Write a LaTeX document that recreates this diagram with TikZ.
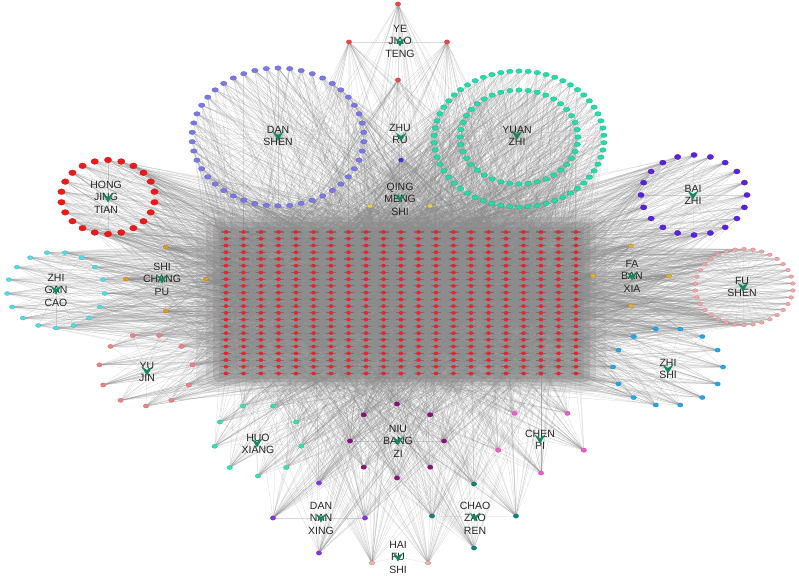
\documentclass[tikz,border=0pt]{standalone}
\usepackage{fontspec}
\setmainfont{Liberation Sans}
\usetikzlibrary{shapes.geometric}
\pgfdeclarelayer{back}
\pgfdeclarelayer{edges}
\pgfdeclarelayer{bars}
\pgfsetlayers{back,edges,bars,main}
\definecolor{tred}{HTML}{E8242C}
\definecolor{vgreen}{HTML}{138A5E}
\definecolor{cyjt}{HTML}{E84848}
\definecolor{czr}{HTML}{3A3AD8}
\definecolor{cqms}{HTML}{E8D050}
\definecolor{cds}{HTML}{7878E8}
\definecolor{cyz}{HTML}{22DDAA}
\definecolor{chjt}{HTML}{F01818}
\definecolor{cbz}{HTML}{5A22E0}
\definecolor{cfs}{HTML}{F2A6A6}
\definecolor{cfbx}{HTML}{E0B038}
\definecolor{cscp}{HTML}{E8981C}
\definecolor{czgc}{HTML}{50DDE6}
\definecolor{cyj}{HTML}{F08282}
\definecolor{czs}{HTML}{22A8E6}
\definecolor{chx}{HTML}{30E4AE}
\definecolor{cnbz}{HTML}{8A1080}
\definecolor{ccp}{HTML}{F05CC8}
\definecolor{cdnx}{HTML}{8A30E8}
\definecolor{cczr}{HTML}{108080}
\definecolor{chfs}{HTML}{F0B0A8}
\definecolor{gridbg}{HTML}{9A9A9A}
\tikzset{
  cpd/.style={ellipse, inner sep=0pt, minimum width=6.5pt, minimum height=4.6pt, fill=#1, draw=#1!75!black, line width=0.2pt},
  tgt/.style={ellipse, inner sep=0pt, minimum width=4.6pt, minimum height=3.8pt, fill=tred},
  tbar/.style={draw=black!65, line width=1.1pt, opacity=0.55},
  edge/.style={draw=black!45, line width=0.25pt, opacity=0.38},
  hedge/.style={draw=black!40, line width=0.25pt, opacity=0.38},
  herb/.style={circle, inner sep=0pt, minimum size=2pt},
  herblabel/.style={align=center, font=\fontsize{10.5}{12.5}\selectfont, text=black!85, inner sep=0pt}
}
\newcommand\ringcluster[8]{%
  \foreach \k in {1,...,#6}{%
    \pgfmathsetmacro\ang{#7+(\k-1)*(360/#6)}%
    \node[#8] (#1-\k) at ({#2+#4*cos(\ang)},{#3+#5*sin(\ang)}) {};
  }}
\newcommand\linkcluster[4]{%
  \foreach \k in {1,...,#2}{%
    \draw[hedge] (#4) -- (#1-\k);
    \foreach \e in {1,...,#3}{%
      \pgfmathrandominteger{\rr}{1}{22}%
      \pgfmathrandominteger{\cc}{1}{21}%
      \draw[edge] (#1-\k) -- (t-\rr-\cc);
    }}}
\newcommand\herbV[1]{\fill[vgreen] (#1) ++(-5.5,-4.5) -- ++(5.5,3.5) -- ++(5.5,-3.5) -- ++(-5.5,9) -- cycle;}
\begin{document}
\begin{tikzpicture}[x=1pt,y=-1pt]
\pgfmathsetseed{4242}
\useasboundingbox (0,0) rectangle (799,575);
\begin{pgfonlayer}{back}
  \fill[white] (0,0) rectangle (799,575);
  \fill[black, opacity=0.07, rounded corners=14pt] (196,210) rectangle (606,392);
  \fill[black, opacity=0.10, rounded corners=10pt] (206,217) rectangle (596,386);
  \fill[black, opacity=0.14, rounded corners=6pt] (213,222) rectangle (590,382);
  \fill[gridbg, opacity=0.6] (219,227) rectangle (584,379);
\end{pgfonlayer}
% target grid
\foreach \r in {1,...,22}{\foreach \c in {1,...,21}{%
  \node[tgt] (t-\r-\c) at ({226+17.5*(\c-1)},{232+6.74*(\r-1)}) {};
}}
\begin{pgfonlayer}{bars}
\foreach \r in {1,...,22}{\foreach \c in {1,...,21}{%
  \draw[tbar] (t-\r-\c.center) ++(-5,0) -- ++(10,0);
}}
\end{pgfonlayer}
% herb nodes
\node[herb] (h-yjt) at (400,42) {};
\node[herb] (h-zr) at (401,137) {};
\node[herb] (h-qms) at (400,198) {};
\node[herb] (h-ds) at (278,136) {};
\node[herb] (h-yz) at (517,135) {};
\node[herb] (h-hjt) at (108,198) {};
\node[herb] (h-bz) at (693,195) {};
\node[herb] (h-fbx) at (632,276) {};
\node[herb] (h-fs) at (743,287) {};
\node[herb] (h-zs) at (668,369) {};
\node[herb] (h-scp) at (162,279) {};
\node[herb] (h-zgc) at (56,290) {};
\node[herb] (h-yj) at (147,371) {};
\node[herb] (h-hx) at (257,443) {};
\node[herb] (h-nbz) at (398,441) {};
\node[herb] (h-cp) at (540,439) {};
\node[herb] (h-dnx) at (321,518) {};
\node[herb] (h-czr) at (475,517) {};
\node[herb] (h-hfs) at (398,557) {};
% compound rings
\ringcluster{c-ds}{278}{137}{86}{69}{46}{-90}{cpd=cds}
\ringcluster{c-yzo}{519}{139}{85}{68}{58}{-90}{cpd=cyz}
\ringcluster{c-yzi}{519}{137}{59}{47}{40}{-90}{cpd=cyz}
\ringcluster{c-hjt}{108}{197}{47}{37}{22}{-90}{cpd=chjt,minimum width=7.5pt,minimum height=5.8pt}
\ringcluster{c-bz}{694}{195}{53}{40}{20}{-90}{cpd=cbz,minimum width=6.5pt,minimum height=5.2pt}
\ringcluster{c-fs}{744}{287}{49}{38}{34}{-90}{cpd=cfs,minimum width=5pt,minimum height=3.6pt}
\ringcluster{c-zgc}{56}{290}{49}{38}{17}{90}{cpd=czgc,minimum width=5.5pt,minimum height=4pt}
\ringcluster{c-yj}{146}{370}{47}{36}{11}{90}{cpd=cyj,minimum width=5.5pt,minimum height=4.2pt}
\ringcluster{c-zs}{668}{367}{55}{39}{14}{102.86}{cpd=czs,minimum width=5.5pt,minimum height=4.2pt}
\ringcluster{c-hx}{258}{440}{44}{36}{9}{90}{cpd=chx,minimum width=5.5pt,minimum height=4.2pt}
\ringcluster{c-nbz}{397}{441}{47}{37}{8}{90}{cpd=cnbz,minimum width=5.5pt,minimum height=4.4pt}
\ringcluster{c-cp}{541}{440}{45}{33}{5}{90}{cpd=ccp,minimum width=5.5pt,minimum height=4.4pt}
\ringcluster{c-dnx}{319}{518}{46}{35}{4}{90}{cpd=cdnx,minimum width=5.5pt,minimum height=4.4pt}
\ringcluster{c-czr}{474}{516}{42}{32}{4}{90}{cpd=cczr,minimum width=5.5pt,minimum height=4.4pt}
\ringcluster{c-yjt}{398}{42}{49}{38}{4}{90}{cpd=cyjt,minimum width=5.5pt,minimum height=4.4pt}
\ringcluster{c-fbx}{631}{276}{38}{30}{4}{90}{cpd=cfbx,minimum width=5.5pt,minimum height=4pt}
\ringcluster{c-scp}{166}{279}{40}{32}{4}{90}{cpd=cscp,minimum width=5.5pt,minimum height=4pt}
\ringcluster{c-qms}{400}{206}{30}{0}{2}{0}{cpd=cqms,minimum width=5.5pt,minimum height=4pt}
\ringcluster{c-zr}{401}{160}{0}{0}{1}{0}{cpd=czr,minimum width=5pt,minimum height=4pt}
\ringcluster{c-hfs}{400}{563}{28}{0}{2}{0}{cpd=chfs,minimum width=5.5pt,minimum height=4pt}
% connectors
\begin{pgfonlayer}{edges}
\linkcluster{c-ds}{46}{11}{h-ds}
\linkcluster{c-yzo}{58}{9}{h-yz}
\linkcluster{c-yzi}{40}{9}{h-yz}
\linkcluster{c-hjt}{22}{14}{h-hjt}
\linkcluster{c-bz}{20}{14}{h-bz}
\linkcluster{c-fs}{34}{11}{h-fs}
\linkcluster{c-zgc}{17}{16}{h-zgc}
\linkcluster{c-yj}{11}{18}{h-yj}
\linkcluster{c-zs}{14}{18}{h-zs}
\linkcluster{c-hx}{9}{20}{h-hx}
\linkcluster{c-nbz}{8}{26}{h-nbz}
\linkcluster{c-cp}{5}{26}{h-cp}
\linkcluster{c-dnx}{4}{30}{h-dnx}
\linkcluster{c-czr}{4}{30}{h-czr}
\linkcluster{c-yjt}{4}{30}{h-yjt}
\linkcluster{c-fbx}{4}{35}{h-fbx}
\linkcluster{c-scp}{4}{35}{h-scp}
\linkcluster{c-qms}{2}{40}{h-qms}
\linkcluster{c-zr}{1}{40}{h-zr}
\linkcluster{c-hfs}{2}{30}{h-hfs}
\end{pgfonlayer}
% labels
\node[herblabel] (l-yjt) at (400,41) {YE\\JIAO\\TENG};
\node[herblabel] (l-zr) at (400,134) {ZHU\\RU};
\node[herblabel] (l-qms) at (400,199) {QING\\MENG\\SHI};
\node[herblabel] (l-ds) at (278,136) {DAN\\SHEN};
\node[herblabel] (l-yz) at (517,136) {YUAN\\ZHI};
\node[herblabel] (l-hjt) at (106,197) {HONG\\JING\\TIAN};
\node[herblabel] (l-bz) at (693,195) {BAI\\ZHI};
\node[herblabel] (l-fbx) at (632,276) {FA\\BAN\\XIA};
\node[herblabel] (l-fs) at (742,287) {FU\\SHEN};
\node[herblabel] (l-zs) at (668,369) {ZHI\\SHI};
\node[herblabel] (l-scp) at (162,279) {SHI\\CHANG\\PU};
\node[herblabel] (l-zgc) at (56,290) {ZHI\\GAN\\CAO};
\node[herblabel] (l-yj) at (147,372) {YU\\JIN};
\node[herblabel] (l-hx) at (258,444) {HUO\\XIANG};
\node[herblabel] (l-nbz) at (398,441) {NIU\\BANG\\ZI};
\node[herblabel] (l-cp) at (540,440) {CHEN\\PI};
\node[herblabel] (l-dnx) at (321,518) {DAN\\NAN\\XING};
\node[herblabel] (l-czr) at (475,518) {CHAO\\ZAO\\REN};
\node[herblabel] (l-hfs) at (398,557) {HAI\\FU\\SHI};
% herb glyphs
\foreach \h in {yjt,zr,qms,ds,yz,hjt,bz,fbx,fs,zs,scp,zgc,yj,hx,nbz,cp,dnx,czr,hfs}{\herbV{h-\h}}
\end{tikzpicture}
\end{document}
